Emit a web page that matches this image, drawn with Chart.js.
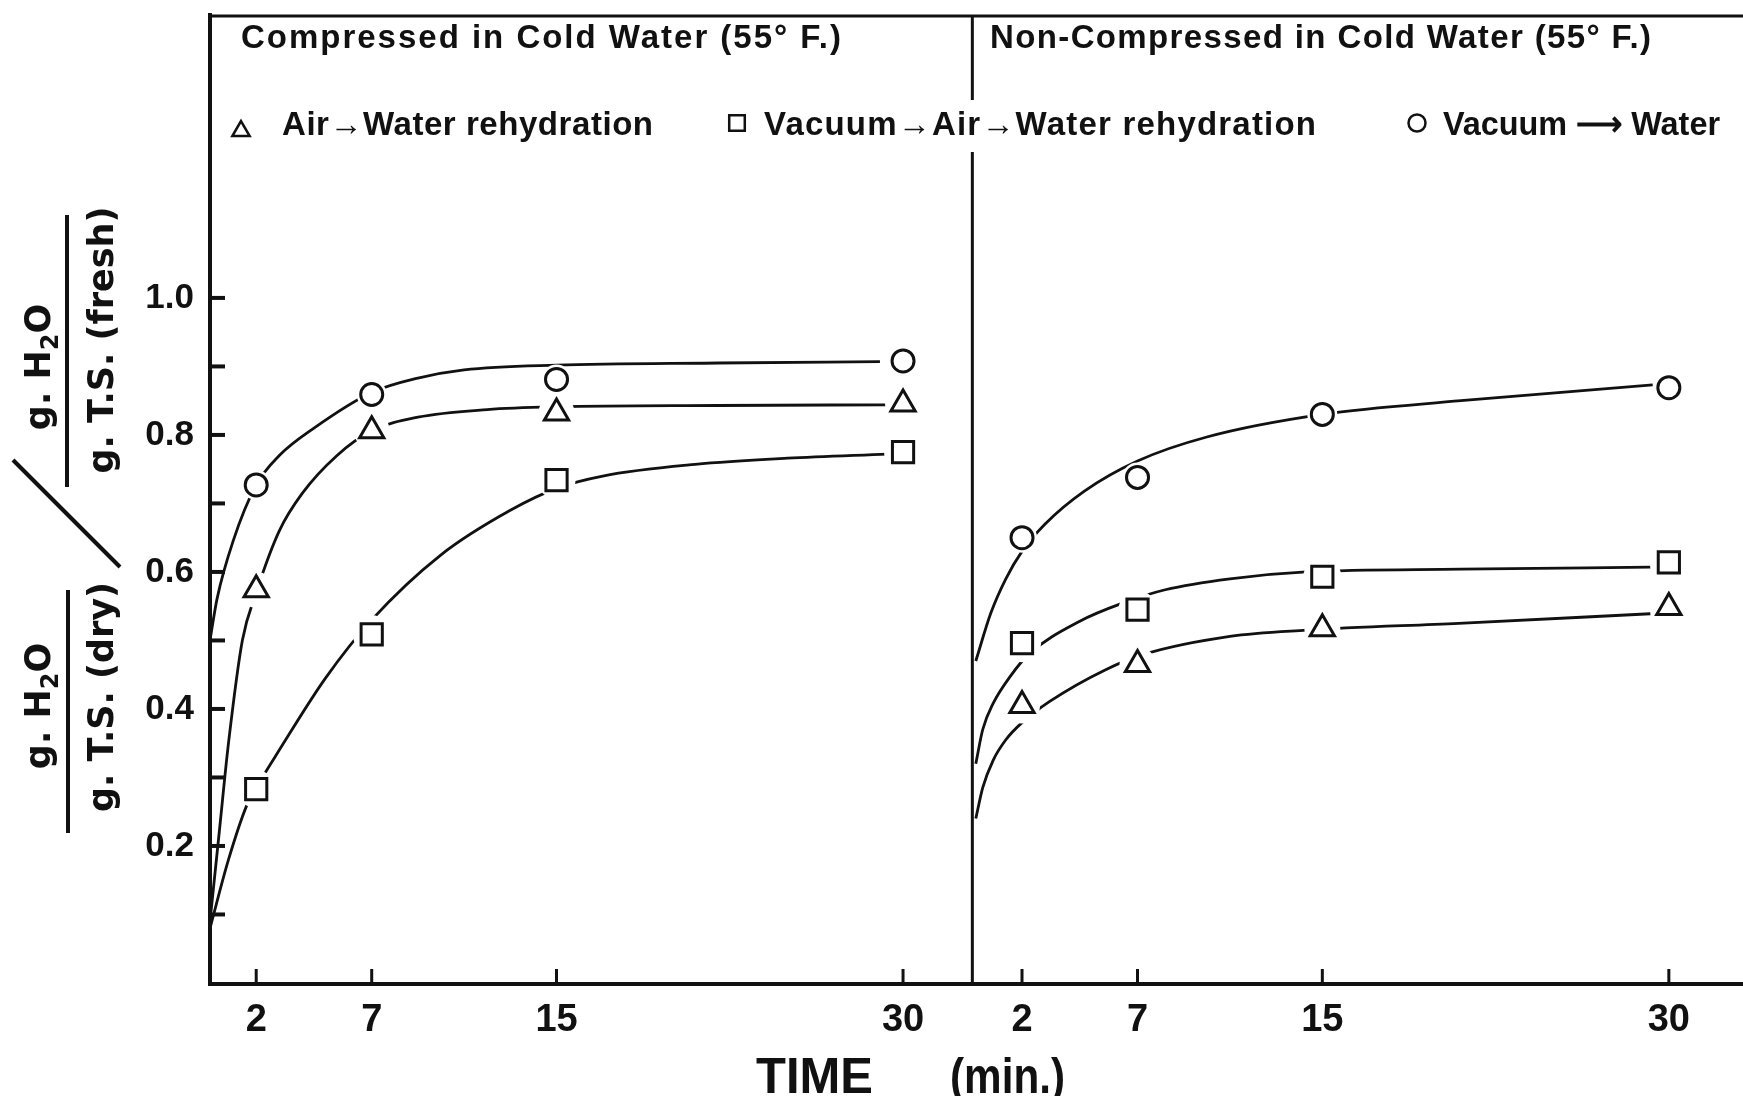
<!DOCTYPE html>
<html><head><meta charset="utf-8">
<script src="https://cdn.jsdelivr.net/npm/chart.js@4.4.1/dist/chart.umd.min.js"></script>
<style>html,body{margin:0;padding:0;background:#fff;overflow:hidden}canvas{display:block}</style>
</head><body>
<canvas id="c" width="1743" height="1096"></canvas>
<script>
// ---------------- data ----------------
const times = [2, 7, 15, 30];
const xTickLabels = ['2', '7', '15', '30'];
const yTickValues = [0.1, 0.2, 0.3, 0.4, 0.5, 0.6, 0.7, 0.8, 0.9, 1.0];
const yTickLabels = ['', '0.2', '', '0.4', '', '0.6', '', '0.8', '', '1.0'];

const panelTitles = ['Compressed in Cold Water (55° F.)', 'Non-Compressed in Cold Water (55° F.)'];
const seriesNames = ['Air→Water rehydration', 'Vacuum→Air→Water rehydration', 'Vacuum ⟶ Water'];
const axisTitleX = ['TIME', '(min.)'];

// Compressed panel (markers at times)
const compAir      = [0.574, 0.806, 0.832, 0.845];
const compVacAir   = [0.283, 0.509, 0.734, 0.775];
const compVacWater = [0.727, 0.859, 0.881, 0.908];
// Non-compressed panel
const nonAir      = [0.405, 0.465, 0.517, 0.548];
const nonVacAir   = [0.496, 0.545, 0.593, 0.614];
const nonVacWater = [0.650, 0.738, 0.830, 0.869];

// hand-drawn fitted curves, [time, value]
const compAirCurve = [[0,0.09],[0.4,0.22],[0.8,0.35],[1.4,0.50],[2,0.57],[3,0.66],[4,0.715],[5.5,0.77],[7,0.806],[9,0.826],[12,0.837],[15,0.841],[22,0.843],[29.3,0.844]];
const compVacAirCurve = [[0,0.08],[0.8,0.18],[1.6,0.26],[2,0.285],[3,0.34],[5,0.445],[7,0.53],[10,0.625],[13,0.69],[15,0.722],[17,0.74],[21,0.757],[25,0.766],[29.3,0.772]];
const compVacWaterCurve = [[0,0.50],[0.3,0.56],[1,0.645],[2,0.727],[3,0.77],[4.5,0.81],[7,0.862],[9,0.883],[11,0.895],[15,0.902],[22,0.905],[29,0.907]];
const nonAirCurve = [[0,0.24],[0.3,0.285],[0.75,0.325],[1.3,0.355],[2,0.38],[3.2,0.411],[5.6,0.457],[7.3,0.48],[11,0.506],[14.3,0.515],[20.9,0.525],[29.2,0.539]];
const nonVacAirCurve = [[0,0.32],[0.3,0.37],[0.75,0.408],[1.5,0.448],[2.3,0.48],[4.5,0.528],[6.4,0.555],[8.2,0.574],[11,0.59],[14.3,0.60],[21,0.604],[29.2,0.607]];
const nonVacWaterCurve = [[0,0.47],[0.65,0.54],[1.3,0.59],[2,0.63],[3,0.67],[4.7,0.718],[7,0.762],[10,0.797],[15,0.830],[21,0.85],[29.3,0.873]];

// ---------------- layout / style ----------------
const PANEL_SPAN = 33;      // divider position (minutes of the left panel)
const RIGHT_OFFSET = 33.15; // where the right panel's time zero sits on the shared axis
const X_MAX = 66.36;
const Y_MIN = -0.0015, Y_MAX = 1.413;
const INK = '#111';
const SANS = "'Liberation Sans', Arial, sans-serif";

const styles = [
  {pointStyle: 'triangle', radius: 14, legendRadius: 10},
  {pointStyle: 'rect', radius: 15, legendRadius: 11},
  {pointStyle: 'circle', radius: 11, legendRadius: 8.5}
];

const panels = [
  {offset: 0, markers: [compAir, compVacAir, compVacWater], curves: [compAirCurve, compVacAirCurve, compVacWaterCurve]},
  {offset: RIGHT_OFFSET, markers: [nonAir, nonVacAir, nonVacWater], curves: [nonAirCurve, nonVacAirCurve, nonVacWaterCurve]}
];

const datasets = [];
panels.forEach(p => {
  p.curves.forEach((c, s) => {
    datasets.push({
      data: c.map(([t, v]) => ({x: t + p.offset, y: v})),
      showLine: true, pointRadius: 0, borderColor: INK, borderWidth: 2.8,
      cubicInterpolationMode: 'monotone', fill: false, order: 3
    });
  });
  p.markers.forEach((vals, s) => {
    const pts = times.map((t, i) => ({x: t + p.offset, y: vals[i]}));
    datasets.push({ // white halo -> small gap in the curve around each symbol
      data: pts, showLine: false, pointStyle: 'circle',
      pointRadius: styles[s].radius + 4, pointBackgroundColor: '#fff', pointBorderWidth: 0, order: 2
    });
    datasets.push({
      data: pts, showLine: false, pointStyle: styles[s].pointStyle,
      pointRadius: styles[s].radius, pointBackgroundColor: '#fff',
      pointBorderColor: INK, pointBorderWidth: 3, order: 1
    });
  });
});

const xTickPositions = [...times, ...times.map(t => t + RIGHT_OFFSET)];

function fitText(ctx, text, x, y, width, font) {
  ctx.save();
  ctx.font = font;
  ctx.letterSpacing = '0px';
  ctx.textAlign = 'left';
  ctx.textBaseline = 'alphabetic';
  const w = ctx.measureText(text).width;
  const n = [...text].length;
  const ls = (width - w) / Math.max(1, n - 1);
  if (ls >= 0) {
    ctx.letterSpacing = ls + 'px';
    ctx.fillText(text, x, y);
  } else {
    ctx.translate(x, y);
    ctx.scale(width / w, 1);
    ctx.fillText(text, 0, 0);
  }
  ctx.restore();
}

function drawRotatedParts(ctx, parts, cy, baseX, font, subFont, subShift) {
  ctx.save();
  ctx.translate(baseX, cy);
  ctx.rotate(-Math.PI / 2);
  ctx.textBaseline = 'alphabetic';
  ctx.textAlign = 'left';
  let total = 0;
  const ws = parts.map(p => { ctx.font = p.sub ? subFont : font; const w = ctx.measureText(p.t).width; total += w; return w; });
  let x = -total / 2;
  parts.forEach((p, i) => {
    ctx.font = p.sub ? subFont : font;
    ctx.fillText(p.t, x, p.sub ? subShift : 0);
    x += ws[i];
  });
  ctx.restore();
}

function line(ctx, x1, y1, x2, y2, w) {
  ctx.save();
  ctx.strokeStyle = INK; ctx.lineWidth = w; ctx.lineCap = 'butt';
  ctx.beginPath(); ctx.moveTo(x1, y1); ctx.lineTo(x2, y2); ctx.stroke();
  ctx.restore();
}

const decor = {
  id: 'decor',
  afterDraw(chart) {
    const ctx = chart.ctx;
    const a = chart.chartArea;
    const xs = chart.scales.x, ys = chart.scales.y;
    ctx.fillStyle = INK;

    // top frame line
    line(ctx, a.left - 2, a.top + 1, a.right, a.top + 1, 3);
    // panel divider (interrupted by the legend row)
    const dx = xs.getPixelForValue(PANEL_SPAN);
    line(ctx, dx, a.top, dx, 100, 3);
    line(ctx, dx, 152, dx, a.bottom, 3);

    // inward tick marks
    ys.ticks.forEach(t => {
      const py = ys.getPixelForValue(t.value);
      line(ctx, a.left, py, a.left + 15, py, 4);
    });
    xs.ticks.forEach(t => {
      const px = xs.getPixelForValue(t.value);
      line(ctx, px, a.bottom, px, a.bottom - 15, 3);
    });

    // panel titles
    const titleFont = "bold 33px " + SANS;
    fitText(ctx, panelTitles[0], 241, 48, 600, titleFont);
    fitText(ctx, panelTitles[1], 990, 48, 661, titleFont);

    // legend
    const legendFont = "bold 33px " + SANS;
    const legend = [
      {mx: 241, my: 131, tx: 282, tw: 371},
      {mx: 737, my: 123, tx: 764, tw: 552},
      {mx: 1417, my: 123, tx: 1443, tw: 277}
    ];
    legend.forEach((L, i) => {
      ctx.save();
      ctx.fillStyle = '#fff'; ctx.strokeStyle = INK; ctx.lineWidth = 2.5;
      Chart.helpers.drawPoint(ctx, {pointStyle: styles[i].pointStyle, radius: styles[i].legendRadius, rotation: 0, borderWidth: 2.5}, L.mx, L.my);
      ctx.restore();
      ctx.fillStyle = INK;
      fitText(ctx, seriesNames[i], L.tx, 135, L.tw, legendFont);
    });

    // x axis title
    const xtFont = "bold 50px " + SANS;
    fitText(ctx, axisTitleX[0], 756, 1093, 117, xtFont);
    fitText(ctx, axisTitleX[1], 950, 1093, 115, xtFont);

    // y axis title: (g H2O / g T.S. fresh) / (g H2O / g T.S. dry)
    const yf = "bold 35px 'DejaVu Sans', sans-serif";
    const ysub = "bold 24px 'DejaVu Sans', sans-serif";
    const num = [{t: 'g. H'}, {t: '2', sub: true}, {t: 'O'}];
    ctx.fillStyle = INK;
    drawRotatedParts(ctx, num, 367, 50, yf, ysub, 8);
    drawRotatedParts(ctx, [{t: 'g. T.S. (fresh)'}], 340, 113, yf, ysub, 0);
    line(ctx, 67, 215, 67, 487, 4);
    drawRotatedParts(ctx, num, 706, 50, yf, ysub, 8);
    drawRotatedParts(ctx, [{t: 'g. T.S. (dry)'}], 697, 113, yf, ysub, 0);
    line(ctx, 68, 590, 68, 833, 4);
    line(ctx, 13, 460, 120, 567, 4);
  }
};

new Chart(document.getElementById('c'), {
  type: 'scatter',
  data: {datasets},
  options: {
    responsive: false,
    devicePixelRatio: 1,
    animation: false,
    layout: {autoPadding: false, padding: {top: 15, right: 0, bottom: 0, left: 0}},
    plugins: {legend: {display: false}, tooltip: {enabled: false}, title: {display: false}},
    scales: {
      x: {
        type: 'linear', min: 0, max: X_MAX,
        grid: {display: false},
        border: {display: true, width: 4, color: INK},
        ticks: {
          autoSkip: false, maxRotation: 0, padding: 6, color: INK,
          font: {family: SANS, size: 38, weight: 'bold'},
          callback: (v, i) => xTickLabels[i % xTickLabels.length]
        },
        afterBuildTicks: s => { s.ticks = xTickPositions.map(v => ({value: v})); },
        afterFit: s => { s.height = 112; s.paddingLeft = 0; s.paddingRight = 0; }
      },
      y: {
        type: 'linear', min: Y_MIN, max: Y_MAX,
        grid: {display: false},
        border: {display: true, width: 4, color: INK},
        ticks: {
          padding: 8, color: INK,
          font: {family: SANS, size: 35, weight: 'bold'},
          callback: (v, i) => yTickLabels[i]
        },
        afterBuildTicks: s => { s.ticks = yTickValues.map(v => ({value: v})); },
        afterFit: s => { s.width = 210; s.paddingTop = 0; s.paddingBottom = 0; }
      }
    }
  },
  plugins: [decor]
});
</script>
</body></html>
